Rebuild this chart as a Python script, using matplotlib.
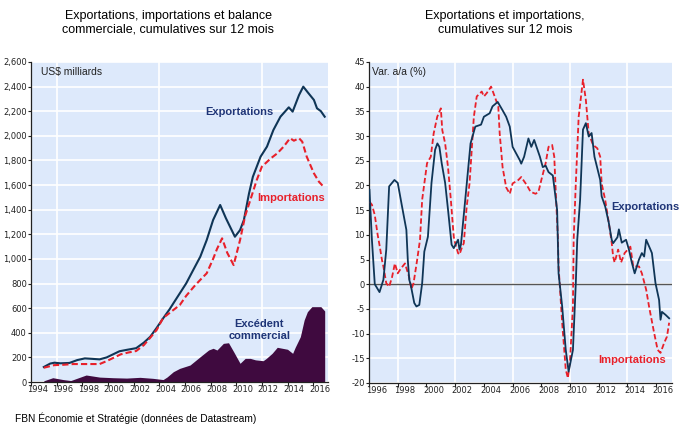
import matplotlib
matplotlib.use('Agg')
import matplotlib.pyplot as plt
from matplotlib.ticker import FuncFormatter, FixedLocator

# Données (années décimales)
ann_exp = [1995.0, 1995.5, 1995.83, 1996.3, 1997.0, 1997.6, 1998.2, 1998.8, 1999.35, 1999.9,
           2000.4, 2000.9, 2001.5, 2002.2, 2002.8, 2003.3, 2003.8, 2004.3, 2004.8, 2005.1,
           2005.6, 2006.1, 2006.6, 2007.2, 2007.7, 2008.2, 2008.75, 2009.2, 2009.9, 2010.3,
           2010.6, 2011.0, 2011.3, 2011.9, 2012.4, 2012.9, 2013.45, 2014.1, 2014.4, 2014.9,
           2015.23, 2015.6, 2016.06, 2016.3, 2016.6, 2016.9]
exportations = [122, 150, 157, 152, 155, 178, 192, 188, 184, 200,
                225, 250, 262, 275, 320, 368, 440, 517, 590, 639,
                720, 801, 900, 1018, 1153, 1316, 1438, 1330, 1180, 1234,
                1316, 1532, 1667, 1830, 1912, 2047, 2155, 2231, 2196, 2331,
                2399, 2350, 2291, 2223, 2200, 2155]

ann_imp = [1995.0, 1995.8, 1996.5, 1997.3, 1998.3, 1999.35, 1999.9, 2000.4, 2001.0, 2001.6,
           2002.2, 2002.8, 2003.3, 2003.8, 2004.3, 2004.6, 2005.1, 2005.6, 2006.1, 2006.7,
           2007.2, 2007.7, 2008.2, 2008.5, 2008.9, 2009.3, 2009.8, 2010.3, 2010.7, 2011.1,
           2011.6, 2012.0, 2012.7, 2013.2, 2013.7, 2014.2, 2014.5, 2014.9, 2015.15, 2015.5,
           2016.06, 2016.45, 2016.8]
importations = [116, 137, 140, 146, 146, 146, 170, 195, 225, 240,
                252, 300, 360, 423, 520, 544, 585, 625, 700, 774,
                830, 883, 1000, 1080, 1167, 1050, 950, 1153, 1350, 1478,
                1640, 1749, 1817, 1857, 1912, 1980, 1960, 1980, 1952, 1830,
                1695, 1627, 1587]

ann_exc = [1995.0, 1995.7, 1996.5, 1997.1, 1998.3, 1999.35, 2000.4, 2001.45, 2002.5, 2003.5,
           2004.3, 2004.6, 2005.1, 2005.6, 2006.4, 2007.2, 2007.85, 2008.2, 2008.5, 2009.0,
           2009.4, 2009.8, 2010.3, 2010.7, 2011.1, 2011.5, 2012.1, 2012.35, 2012.8, 2013.2,
           2014.0, 2014.4, 2014.6, 2015.0, 2015.3, 2015.55, 2015.9, 2016.6, 2016.9]
excedent = [10, 35, 20, 12, 57, 40, 35, 32, 38, 30,
            20, 40, 84, 111, 138, 206, 260, 274, 260, 314,
            319, 246, 152, 192, 192, 180, 173, 192, 233, 282,
            266, 233, 282, 368, 504, 571, 612, 612, 577]

# Variation a/a (%)
ann_var_exp = [1996.03, 1996.2, 1996.4, 1996.73, 1997.0, 1997.2, 1997.4, 1997.77, 1998.0, 1998.3,
               1998.6, 1998.7, 1998.8, 1998.9, 1999.15, 1999.3, 1999.5, 1999.7, 1999.85, 2000.1,
               2000.35, 2000.6, 2000.76, 2000.9, 2001.06, 2001.3, 2001.5, 2001.75, 2001.9, 2002.2,
               2002.3, 2002.4, 2002.7, 2003.07, 2003.4, 2003.8, 2004.0, 2004.4, 2004.6, 2004.96,
               2005.3, 2005.55, 2005.8, 2006.0, 2006.5, 2006.6, 2006.8, 2007.1, 2007.3, 2007.5,
               2007.9, 2008.1, 2008.3, 2008.5, 2008.8, 2009.1, 2009.2, 2009.45, 2009.7, 2009.9,
               2010.2, 2010.4, 2010.5, 2010.7, 2010.9, 2011.1, 2011.3, 2011.5, 2011.7, 2012.1,
               2012.2, 2012.45, 2012.7, 2012.9, 2013.0, 2013.3, 2013.4, 2013.6, 2013.9, 2014.1,
               2014.3, 2014.5, 2014.8, 2015.0, 2015.16, 2015.3, 2015.6, 2015.7, 2015.95, 2016.2,
               2016.3, 2016.4, 2016.65, 2016.9]
var_exp = [19.1, 9.0, 0.0, -1.6, 0.9, 7.0, 19.8, 21.1, 20.5, 15.7,
           11.0, 4.9, 0.9, -0.1, -3.8, -4.5, -4.2, 0.2, 6.6, 9.6,
           20.5, 27.2, 28.5, 27.8, 24.5, 20.5, 15.1, 8.0, 7.3, 9.0,
           7.0, 8.0, 17.1, 28.5, 31.9, 32.3, 33.9, 34.6, 36.0, 36.9,
           35.2, 33.9, 31.9, 27.8, 25.1, 24.4, 25.8, 29.5, 27.8, 29.2,
           25.8, 23.7, 24.0, 22.7, 22.0, 15.0, 2.2, -4.5, -13.3, -17.7,
           -13.3, 0.2, 9.0, 17.1, 31.3, 32.6, 29.9, 30.6, 25.8, 21.1,
           17.8, 15.7, 12.4, 9.0, 8.3, 9.5, 11.1, 8.4, 9.0, 7.0,
           4.4, 2.2, 5.0, 6.3, 5.6, 9.0, 7.0, 6.3, 0.2, -3.2,
           -7.2, -5.6, -6.2, -6.9]

ann_var_imp = [1996.03, 1996.2, 1996.4, 1996.6, 1996.75, 1996.9, 1997.0, 1997.2, 1997.4, 1997.6,
               1997.8, 1998.0, 1998.2, 1998.5, 1998.8, 1998.95, 1999.1, 1999.35, 1999.55, 1999.7,
               2000.04, 2000.3, 2000.5, 2000.75, 2001.0, 2001.1, 2001.3, 2001.5, 2001.7, 2001.9,
               2002.0, 2002.2, 2002.3, 2002.45, 2002.6, 2002.8, 2003.0, 2003.3, 2003.5, 2003.85,
               2004.0, 2004.2, 2004.5, 2004.8, 2005.0, 2005.1, 2005.3, 2005.55, 2005.8, 2006.0,
               2006.4, 2006.6, 2007.0, 2007.25, 2007.6, 2007.8, 2008.0, 2008.3, 2008.5, 2008.75,
               2008.9, 2009.0, 2009.15, 2009.2, 2009.45, 2009.7, 2009.85, 2010.0, 2010.2, 2010.25,
               2010.4, 2010.6, 2010.9, 2011.1, 2011.3, 2011.6, 2011.9, 2012.1, 2012.2, 2012.45,
               2012.7, 2012.9, 2013.0, 2013.1, 2013.35, 2013.55, 2013.8, 2014.2, 2014.4, 2014.8,
               2015.0, 2015.3, 2015.5, 2015.85, 2016.1, 2016.3, 2016.55, 2016.75, 2016.9]
var_imp = [16.7, 16.1, 14.0, 10.0, 7.6, 4.9, 3.6, 0.2, -0.5, 1.4,
           4.2, 2.2, 3.1, 4.2, 1.4, -1.0, 0.2, 4.9, 9.0, 17.1,
           24.5, 25.8, 30.5, 33.9, 35.6, 31.2, 28.5, 23.7, 17.0, 9.6,
           8.3, 6.3, 6.0, 7.3, 8.3, 15.7, 20.4, 33.9, 38.0, 39.0,
           38.0, 38.7, 40.0, 37.6, 36.0, 30.5, 23.7, 19.6, 18.3, 20.4,
           21.1, 21.7, 20.0, 18.7, 18.3, 18.7, 21.1, 24.5, 27.8, 28.2,
           25.8, 19.0, 9.6, 3.6, -7.8, -17.3, -19.0, -15.3, -4.5, 9.0,
           20.4, 33.9, 41.4, 37.3, 30.5, 28.2, 27.5, 25.8, 20.4, 17.0,
           12.4, 8.4, 5.6, 4.4, 7.0, 4.4, 6.3, 7.6, 3.6, 3.6,
           2.2, -1.1, -4.5, -9.8, -13.3, -13.9, -11.9, -10.6, -7.8]

# Couleurs
fond = '#dde9fb'
bleu = '#0f3556'
bleu_txt = '#1f3577'
rouge = '#e8202a'
violet = '#3f0a3f'

etroite = ['Liberation Sans Narrow', 'DejaVu Sans']
plt.rcParams['font.family'] = ['Liberation Sans', 'DejaVu Sans']
plt.rcParams['axes.unicode_minus'] = False

fig = plt.figure(figsize=(6.81, 4.24), dpi=100)
ax1 = fig.add_axes([0.0455, 0.099, 0.436, 0.755])
ax2 = fig.add_axes([0.5419, 0.0967, 0.4449, 0.7573])


def style_axe(ax, annees_lab, grille_x):
    ax.set_facecolor(fond)
    for cote in ['top', 'right']:
        ax.spines[cote].set_visible(False)
    for cote in ['left', 'bottom']:
        ax.spines[cote].set_color('#222222')
        ax.spines[cote].set_linewidth(0.9)
    ax.yaxis.grid(True, color='white', linewidth=1.2)
    ax.set_axisbelow(True)
    for a in grille_x:
        ax.axvline(a, color='white', linewidth=1.2, zorder=0.5)
    # ticks aux années paires, étiquettes au milieu de l'année
    ax.xaxis.set_major_locator(FixedLocator(annees_lab))
    ax.xaxis.set_major_formatter(FuncFormatter(lambda v, p: ''))
    ax.xaxis.set_minor_locator(FixedLocator([a + 0.5 for a in annees_lab]))
    ax.xaxis.set_minor_formatter(FuncFormatter(lambda v, p: str(int(v))))
    ax.tick_params(axis='x', which='major', length=3, width=0.8, color='#222222')
    ax.tick_params(axis='x', which='minor', length=0, pad=2, labelsize=6)
    ax.tick_params(axis='y', length=2, width=0.8, pad=1, labelsize=6, color='#222222')
    for lab in ax.get_xticklabels(minor=True) + ax.get_yticklabels():
        lab.set_family(etroite)
        lab.set_color('#222222')


# Graphique de gauche
ax1.fill_between(ann_exc, excedent, 0, color=violet, linewidth=0, zorder=2)
ax1.plot(ann_exp, exportations, color=bleu, linewidth=1.5, zorder=3)
ax1.plot(ann_imp, importations, color=rouge, linewidth=1.5, linestyle=(0, (3, 1.5)), zorder=3)
ax1.set_xlim(1994, 2017.15)
ax1.set_ylim(0, 2600)
ax1.set_yticks(range(0, 2601, 200))
ax1.yaxis.set_major_formatter(FuncFormatter(lambda v, p: f'{v:,.0f}'))
style_axe(ax1, list(range(1994, 2017, 2)), [1996, 2004, 2012])

ax1.text(1994.8, 2518, 'US$ milliards', fontsize=7.5, va='center', ha='left', color='#222222')
ax1.text(2010.25, 2196, 'Exportations', fontsize=8, fontweight='bold', color=bleu_txt,
         ha='center', va='center')
ax1.text(2014.3, 1492, 'Importations', fontsize=8, fontweight='bold', color=rouge,
         ha='center', va='center', clip_on=False)
ax1.text(2011.8, 422, 'Excédent\ncommercial', fontsize=8, fontweight='bold', color=bleu_txt,
         ha='center', va='center', linespacing=1.25)

# Graphique de droite
ax2.axhline(0, color='#555555', linewidth=1.0, zorder=1)
ax2.plot(ann_var_imp, var_imp, color=rouge, linewidth=1.3, linestyle=(0, (3, 1.5)), zorder=3)
ax2.plot(ann_var_exp, var_exp, color=bleu, linewidth=1.3, zorder=3)
ax2.set_xlim(1996, 2017.1)
ax2.set_ylim(-20, 45)
ax2.set_yticks(range(-20, 46, 5))
style_axe(ax2, list(range(1996, 2017, 2)), [1998, 2002, 2006, 2010, 2014])

ax2.text(1996.2, 43, 'Var. a/a (%)', fontsize=7.5, va='center', ha='left', color='#222222')
ax2.text(2015.25, 15.6, 'Exportations', fontsize=8, fontweight='bold', color=bleu_txt,
         ha='center', va='center', clip_on=False)
ax2.text(2014.3, -15.3, 'Importations', fontsize=8, fontweight='bold', color=rouge,
         ha='center', va='center')

# Titres
fig.text(168.5 / 681, 1 - 23 / 424, 'Exportations, importations et balance\ncommerciale, cumulatives sur 12 mois',
         ha='center', va='center', fontsize=9, linespacing=1.2)
fig.text(505 / 681, 1 - 23 / 424, 'Exportations et importations,\ncumulatives sur 12 mois',
         ha='center', va='center', fontsize=9, linespacing=1.2)
fig.text(15 / 681, 1 - 418 / 424, 'FBN Économie et Stratégie (données de Datastream)',
         ha='left', va='center', fontsize=7.3)

fig.savefig('out.png', dpi=100)
